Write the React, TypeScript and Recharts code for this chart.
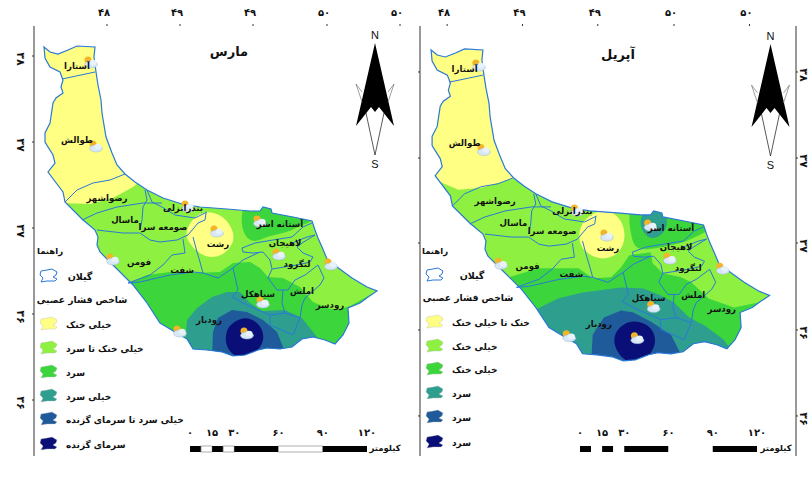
import { Curve, Scatter, ScatterChart, XAxis, YAxis } from "recharts"

const FONT = "'DejaVu Sans', sans-serif"

// province geometry, in map grid units
const outline = [
  [44, 47], [50, 52], [58, 54], [68, 50], [77, 46], [95, 47], [94, 57], [96, 72], [98, 85], [101, 100], [102, 113],
  [106, 137], [112, 153], [117, 165], [125, 174], [135, 182], [147, 190], [163, 198], [182, 204], [200, 207],
  [227, 209], [250, 211], [260, 211], [263, 207], [271, 209], [272, 213], [293, 217], [312, 221], [315, 230],
  [318, 238], [322, 247], [327, 259], [337, 267], [352, 278], [367, 287], [377, 291], [368, 297], [360, 303],
  [348, 308], [349, 323], [343, 335], [335, 344], [325, 340], [313, 337], [302, 339], [292, 347], [280, 349],
  [267, 348], [258, 350], [245, 355], [233, 356], [222, 352], [207, 350], [193, 349], [187, 339], [175, 332],
  [160, 323], [147, 303], [133, 285], [115, 267], [100, 252], [97, 245], [98, 237], [95, 230], [82, 219], [65, 202],
  [63, 192], [48, 172], [55, 163], [53, 155], [45, 142], [45, 133], [50, 123], [53, 103], [56, 98], [63, 93],
  [61, 87], [63, 80], [60, 72], [50, 67], [45, 58],
]

const districts = [
  [[62, 79], [95, 72]],
  [[65, 202], [77, 190], [93, 183], [110, 180], [125, 174]],
  [[82, 220], [97, 213], [117, 207], [143, 203], [162, 203]],
  [[145, 190], [147, 200], [143, 207], [142, 220], [140, 230]],
  [[147, 190], [152, 202], [162, 207], [175, 215], [195, 218], [207, 212]],
  [[97, 230], [123, 233], [140, 233], [150, 240], [160, 242], [177, 240], [188, 235], [198, 223], [205, 220], [206, 213]],
  [[183, 239], [185, 253], [172, 255], [163, 265], [150, 275], [128, 283]],
  [[193, 237], [197, 252], [200, 262], [203, 273]],
  [[128, 283], [140, 282], [170, 275], [193, 272], [203, 273], [218, 278], [233, 268], [243, 260], [260, 252]],
  [[242, 248], [255, 243], [273, 240], [292, 237], [303, 227], [312, 223]],
  [[242, 248], [243, 252], [253, 253], [263, 252], [270, 260], [272, 269], [268, 278], [277, 290], [283, 290], [282, 303], [285, 313], [300, 318], [293, 335]],
  [[292, 243], [307, 237], [315, 235]],
  [[315, 235], [302, 243], [297, 247], [303, 253], [313, 257], [310, 262], [297, 265], [272, 269]],
  [[288, 290], [295, 280], [305, 275], [318, 265], [324, 278], [320, 285], [305, 298], [302, 305], [300, 318]],
  [[283, 290], [288, 290]],
  [[233, 268], [238, 290], [232, 297], [247, 305], [270, 315], [285, 313]],
  [[270, 315], [270, 325], [293, 335]],
]

// pressure index bands for each month, painted in this order
const marchBands = [
  { fill: "#8ef040", smooth: false, pts: [[60, 203], [90, 204], [113, 198], [133, 187], [142, 180], [200, 195], [400, 200], [400, 380], [40, 380]] },
  { fill: "#ffff84", smooth: true, pts: [[207, 211], [222, 215], [232, 227], [235, 240], [227, 253], [212, 259], [198, 253], [190, 244], [185, 235], [189, 224], [197, 215]] },
  { fill: "#3cd63c", smooth: true, pts: [[241, 200], [241, 233], [253, 244], [267, 236], [287, 233], [303, 224], [314, 222], [302, 212], [265, 200]] },
  { fill: "#3cd63c", smooth: false, pts: [[125, 285], [147, 275], [170, 272], [193, 273], [220, 272], [233, 263], [250, 262], [260, 268], [268, 277], [283, 278], [300, 287], [313, 302], [327, 308], [337, 310], [350, 306], [372, 294], [400, 300], [400, 380], [125, 380]] },
  { fill: "#2e9e8e", smooth: false, pts: [[185, 350], [187, 320], [197, 308], [212, 297], [227, 292], [240, 292], [250, 303], [262, 311], [285, 310], [302, 318], [317, 337], [317, 370], [185, 370]] },
  { fill: "#1f5a9a", smooth: false, pts: [[212, 358], [213, 332], [218, 318], [232, 310], [247, 312], [263, 320], [277, 332], [285, 352], [285, 370], [212, 370]] },
  { fill: "#0a0f78", smooth: true, pts: [[245, 317], [256, 321], [263, 330], [264, 341], [258, 351], [247, 358], [236, 357], [228, 350], [225, 340], [227, 328], [235, 321]] },
]

const aprilBands = [
  { fill: "#8ef040", smooth: false, pts: [[50, 177], [71, 186], [94, 184], [124, 175], [140, 178], [400, 200], [400, 380], [40, 380]] },
  { fill: "#ffff84", smooth: true, pts: [[212, 205], [226, 209], [234, 222], [235, 236], [229, 250], [214, 256], [199, 251], [190, 241], [189, 227], [196, 213]] },
  { fill: "#3cd63c", smooth: true, pts: [[237, 198], [240, 230], [245, 247], [265, 244], [290, 240], [310, 230], [322, 224], [310, 212], [290, 206], [260, 198]] },
  { fill: "#2e9e8e", smooth: true, pts: [[263, 202], [276, 208], [277, 225], [265, 236], [254, 232], [248, 218], [254, 206]] },
  { fill: "#3cd63c", smooth: false, pts: [[117, 274], [150, 264], [189, 264], [203, 274], [221, 273], [231, 263], [239, 251], [260, 248], [262, 259], [272, 269], [290, 273], [300, 278], [317, 294], [342, 303], [366, 298], [381, 290], [399, 335], [399, 380], [117, 380]] },
  { fill: "#2e9e8e", smooth: false, pts: [[147, 305], [169, 294], [193, 288], [231, 283], [253, 284], [270, 291], [283, 298], [298, 313], [313, 321], [332, 335], [339, 345], [339, 370], [147, 370]] },
  { fill: "#1f5a9a", smooth: false, pts: [[201, 367], [203, 330], [214, 313], [231, 306], [243, 308], [260, 317], [280, 330], [290, 350], [290, 370]] },
  { fill: "#0a0f78", smooth: true, pts: [[243, 316], [256, 319], [264, 328], [265, 340], [259, 351], [248, 358], [236, 357], [228, 349], [223, 337], [226, 326], [234, 319]] },
]

const cities = [
  { x: 77, y: 65, name: "آستارا" }, { x: 77, y: 139, name: "طوالش" }, { x: 107, y: 197, name: "رضواشهر" },
  { x: 183, y: 207, name: "بندرانزلی" }, { x: 125, y: 219, name: "ماسال" }, { x: 163, y: 226, name: "صومعه سرا" },
  { x: 280, y: 223, name: "آستانه اشر" }, { x: 218, y: 243, name: "رشت" }, { x: 285, y: 242, name: "لاهیجان" },
  { x: 297, y: 263, name: "لنگرود" }, { x: 302, y: 290, name: "املش" }, { x: 330, y: 304, name: "رودسر" },
  { x: 258, y: 293, name: "سیاهکل" }, { x: 139, y: 261, name: "فومن" }, { x: 182, y: 269, name: "شفت" },
  { x: 209, y: 319, name: "رودبار" },
]

const stations = [
  [90, 63], [95, 147], [187, 207], [216, 232], [259, 222], [278, 255], [330, 265], [262, 303], [246, 334], [179, 332], [112, 260],
]

const lonLabels = ["۴۸", "۴۹", "۴۹", "۵۰", "۵۰"]
const latLabels = ["۳۸", "۳۷", "۳۷", "۳۶", "۳۶"]

const legendColors = ["#ffff84", "#8ef040", "#3cd63c", "#2e9e8e", "#1f5a9a", "#0a0f78"]
const marchLegend = ["خیلی خنک", "خیلی خنک تا سرد", "سرد", "خیلی سرد", "خیلی سرد تا سرمای گزنده", "سرمای گزنده"]
const aprilLegend = ["خنک تا خیلی خنک", "خیلی خنک", "خیلی خنک", "سرد", "سرد", "سرد"]

const scaleKm = [0, 15, 30, 60, 90, 120]
const scaleLabels = ["۰", "۱۵", "۳۰", "۶۰", "۹۰", "۱۲۰"]
const scaleSegments = [[0, 7.5], [7.5, 15], [15, 22.5], [22.5, 30], [30, 60], [60, 90], [90, 120]]

const toPoints = (list: number[][]) => list.map(([x, y]) => ({ x, y }))
const NoDot = () => <g />

const WeatherIcon = (props: any) => (
  <g transform={`translate(${props.cx},${props.cy})`}>
    <circle cx={-2} cy={-3} r={3.5} fill="#f2b52a" />
    <ellipse cx={1} cy={1.5} rx={6.5} ry={3.5} fill="#d8e8f6" stroke="#9fb8d0" strokeWidth={0.5} />
    <ellipse cx={3} cy={-0.5} rx={3.5} ry={2.8} fill="#e8f2fa" />
  </g>
)

const CityName = (props: any) => (
  <text x={props.cx} y={props.cy} dy={3.5} textAnchor="middle" fontFamily={FONT} fontSize={8.6} fontWeight="bold" fill="#111">
    {props.payload.name}
  </text>
)

const latTick = (labels: string[] | null, ticks: number[], side: string) => (props: any) => {
  if (!labels) return <g />
  const i = ticks.indexOf(props.payload.value)
  return (
    <text
      transform={`translate(${props.x + (side === "left" ? -13 : 0)},${props.y + 3}) rotate(90)`}
      textAnchor="middle"
      fontFamily={FONT}
      fontSize={11}
      fontWeight="bold"
      fill="#111"
    >
      {labels[i]}
    </text>
  )
}

function Panel({ bands, id, left, width, xDomain, yDomain, xTicks, yTicks, rightAxis, leftLabels }: any) {
  const tickStyle = { fontFamily: FONT, fontSize: 10, fontWeight: "bold", fill: "#111", dx: -3 }
  return (
    <div style={{ position: "absolute", left, top: 0 }}>
      <ScatterChart width={width} height={477} margin={{ top: 0, right: 0, bottom: 0, left: 0 }}>
        <XAxis xAxisId="top" orientation="top" dataKey="x" type="number" height={26} domain={xDomain} ticks={xTicks} interval={0}
          allowDataOverflow axisLine={false} tickSize={2} tickMargin={8} tick={tickStyle} tickLine={{ stroke: "#333" }}
          tickFormatter={(_: number, i: number) => lonLabels[i]} />
        <XAxis xAxisId="bottom" orientation="bottom" type="number" height={21} domain={xDomain} ticks={xTicks} interval={0}
          allowDataOverflow axisLine={false} tickSize={2} tickMargin={2} tick={tickStyle} tickLine={{ stroke: "#333" }}
          tickFormatter={(_: number, i: number) => lonLabels[i]} />
        <YAxis yAxisId="left" orientation="left" dataKey="y" type="number" width={34} reversed domain={yDomain} ticks={yTicks} interval={0}
          allowDataOverflow axisLine={{ stroke: "#999", strokeWidth: 2 }} tickSize={2} tickLine={{ stroke: "#333" }}
          tick={latTick(leftLabels ? latLabels : null, yTicks, "left")} />
        {rightAxis && (
          <YAxis yAxisId="right" orientation="right" type="number" width={16} reversed domain={yDomain} ticks={yTicks} interval={0}
            allowDataOverflow axisLine={{ stroke: "#999", strokeWidth: 2 }} tickSize={2} tickLine={{ stroke: "#333" }}
            tick={latTick(latLabels, yTicks, "right")} />
        )}

        {/* province base colour, also used as the clip for the bands */}
        <Scatter xAxisId="top" yAxisId="left" data={toPoints(outline)} isAnimationActive={false} shape={NoDot}
          line={(p: any) => (
            <g>
              <clipPath id={id}>
                <path d={`M${p.points.map((q: any) => `${q.x},${q.y}`).join("L")}Z`} />
              </clipPath>
              <Curve points={p.points} type="linearClosed" fill="#ffff84" stroke="none" />
            </g>
          )} />
        {bands.map((b: any, i: number) => (
          <Scatter key={i} xAxisId="top" yAxisId="left" data={toPoints(b.pts)} isAnimationActive={false} shape={NoDot}
            line={(p: any) => (
              <g clipPath={`url(#${id})`}>
                <Curve points={p.points} type={b.smooth ? "basisClosed" : "linearClosed"} fill={b.fill} stroke="none" />
              </g>
            )} />
        ))}
        {districts.map((d, i) => (
          <Scatter key={i} xAxisId="top" yAxisId="left" data={toPoints(d)} isAnimationActive={false} shape={NoDot}
            line={{ stroke: "#2a78d8", strokeWidth: 1 }} />
        ))}
        <Scatter xAxisId="top" yAxisId="left" data={toPoints(outline)} isAnimationActive={false} shape={NoDot}
          line={(p: any) => <Curve points={p.points} type="linearClosed" fill="none" stroke="#2a78d8" strokeWidth={1.2} />} />

        <Scatter xAxisId="top" yAxisId="left" data={toPoints(stations)} isAnimationActive={false} shape={WeatherIcon} />
        <Scatter xAxisId="top" yAxisId="left" data={cities} isAnimationActive={false} shape={CityName} />
      </ScatterChart>
    </div>
  )
}

const blob = "M-8,-5L-2,-6L3,-7L8,-4L7,-1L4,1L8,3L6,5L-2,5L-8,6L-6,2L-9,-1Z"

function Furniture({ title, titleX, titleY, legend, guideX, gilanX, gilanY, headX, headY, swatchX, textX, rows, barX, whiteBorder, kmX, arrowDx, arrowDy }: any) {
  const bold = { fontFamily: FONT, fontWeight: "bold", fill: "#111" } as const
  const kmToX = (km: number) => barX + km * 1.475
  return (
    <g>
      <text x={titleX} y={titleY} textAnchor="middle" fontSize={13} {...bold}>{title}</text>
      <text x={guideX} y={254} textAnchor="middle" fontSize={8.5} {...bold}>راهنما</text>
      <path d={blob} transform={`translate(${swatchX},${gilanY})`} fill="#fff" stroke="#2a78d8" />
      <text x={gilanX} y={gilanY + 4} textAnchor="middle" fontSize={9.5} {...bold}>گیلان</text>
      <text x={headX} y={headY} textAnchor="middle" fontSize={9.2} {...bold}>شاخص فشار عصبی</text>
      {legend.map((label: string, i: number) => (
        <g key={i}>
          <path d={blob} transform={`translate(${swatchX},${rows[i]})`} fill={legendColors[i]} stroke="#bbb" strokeWidth={0.4} />
          <text x={textX} y={rows[i] + 3.5} textAnchor="start" fontSize={9} {...bold}>{label}</text>
        </g>
      ))}

      {scaleKm.map((km, i) => (
        <text key={km} x={kmToX(km)} y={436} textAnchor="middle" fontSize={10} {...bold}>{scaleLabels[i]}</text>
      ))}
      {scaleSegments.map(([a, b], i) => (
        <rect key={a} x={kmToX(a)} y={446} width={kmToX(b) - kmToX(a)} height={6} fill={i % 2 ? "#fff" : "#000"}
          stroke={whiteBorder && i % 2 ? "#999" : "none"} strokeWidth={0.8} />
      ))}
      <text x={kmX} y={451} textAnchor="middle" fontSize={8.5} {...bold}>کیلومتر</text>

      <g transform={`translate(${arrowDx},${arrowDy})`}>
        <text x={375} y={39} textAnchor="middle" fontFamily="'Liberation Sans', sans-serif" fontSize={11} fill="#111">N</text>
        <text x={375} y={168} textAnchor="middle" fontFamily="'Liberation Sans', sans-serif" fontSize={11} fill="#111">S</text>
        <path d="M375,43L394,126L379,107L375,112L371,107L356,126Z" fill="#000" />
        <path d="M366,113L375,155L384,113" fill="none" stroke="#111" strokeWidth={0.7} />
        <path d="M356,84L362,92M356,84L362,102M394,84L388,92M394,84L388,102" fill="none" stroke="#777" strokeWidth={0.7} />
      </g>
    </g>
  )
}

export default function App() {
  return (
    <div style={{ position: "absolute", left: 0, top: 0, width: 812, height: 477, overflow: "hidden", background: "#fff" }}>
      <Panel bands={marchBands} id="clip-march" left={0} width={420} xDomain={[34, 420]} yDomain={[26, 456]}
        xTicks={[107, 180, 253, 327, 400]} yTicks={[56, 142, 228, 314, 400]} leftLabels />
      <Panel bands={aprilBands} id="clip-april" left={386} width={426} xDomain={[33.1, 403]} yDomain={[23.2, 450.6]}
        xTicks={[59.8, 133.9, 208, 283, 357.2]} yTicks={[68.9, 154.4, 238.9, 325.3, 410.8]} rightAxis />
      <svg width={812} height={477} style={{ position: "absolute", left: 0, top: 0, pointerEvents: "none" }}>
        <Furniture title="مارس" titleX={229} titleY={56} legend={marchLegend} guideX={50} gilanX={80} gilanY={276} headX={82} headY={303}
          swatchX={49} textX={66} rows={[324, 348, 372, 396, 419, 444]} barX={190} whiteBorder kmX={385} arrowDx={0} arrowDy={0} />
        <Furniture title="آپریل" titleX={618} titleY={59} legend={aprilLegend} guideX={435} gilanX={472} gilanY={275} headX={468} headY={301}
          swatchX={435} textX={452} rows={[322, 346, 369, 393, 417, 442]} barX={580} kmX={776} arrowDx={395.5} arrowDy={1} />
      </svg>
    </div>
  )
}
